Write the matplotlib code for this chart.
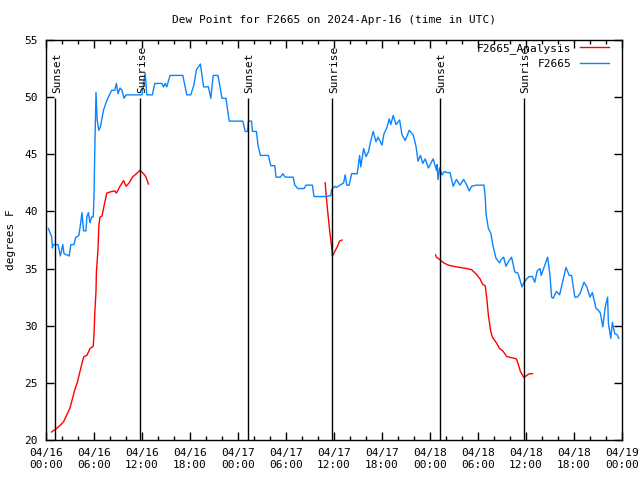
import numpy as np
import pandas as pd
import matplotlib
matplotlib.use("Agg")
import matplotlib.pyplot as plt
import matplotlib.dates as mdates
import matplotlib.transforms as mtransforms

plt.rcParams['font.family'] = ['DejaVu Sans Mono']
plt.rcParams['font.size'] = 8

start = pd.Timestamp("2024-04-16 00:00")

# observed dew point (hours after start, deg F)
obs_hours = [0.3, 0.7, 0.8, 0.9, 1.5, 1.8, 2.1, 2.25, 2.9, 3.1, 3.5, 3.7, 4.1, 4.3, 4.5, 4.7,
             5.0, 5.1, 5.3, 5.5, 5.7, 5.9, 6.0, 6.1, 6.25, 6.4, 6.6, 6.8, 7.2, 7.6, 8.0, 8.2,
             8.6, 8.8, 9.0, 9.25, 9.5, 9.75, 10.0, 10.3, 12.0, 12.4, 12.6, 13.3, 13.6, 14.5,
             14.7, 14.9, 15.1, 15.5, 17.1, 17.6, 18.1, 18.5, 18.8, 19.3, 19.7, 20.3, 20.6,
             20.9, 21.5, 22.0, 22.5, 22.9, 24.25, 24.6, 24.9, 25.2, 25.3, 25.7, 25.8, 26.3,
             26.5, 26.8, 27.8, 28.1, 28.6, 28.75, 29.3, 29.6, 29.9, 30.9, 31.1, 31.5, 32.25,
             32.5, 33.3, 33.5, 35.0, 35.6, 35.7, 36.1, 36.3, 36.75, 37.2, 37.4, 37.6, 37.9,
             38.2, 38.9, 39.2, 39.35, 39.7, 40.0, 40.3, 40.6, 40.9, 41.25, 41.5, 42.0, 42.25,
             42.6, 42.9, 43.1, 43.4, 43.75, 44.2, 44.5, 44.9, 45.4, 45.9, 46.25, 46.5, 46.8,
             47.1, 47.4, 47.8, 48.4, 48.8, 48.9, 49.0, 49.2, 49.5, 49.8, 50.1, 50.5, 50.9,
             51.3, 51.75, 52.2, 52.6, 52.9, 53.2, 53.8, 54.75, 54.9, 55.0, 55.3, 55.6, 55.9,
             56.25, 56.7, 56.9, 57.2, 57.5, 57.8, 58.2, 58.6, 59.0, 59.5, 59.75, 60.1, 60.4,
             60.8, 61.1, 61.4, 61.75, 61.9, 62.25, 62.7, 63.0, 63.2, 63.4, 63.8, 64.2, 64.6,
             65.0, 65.4, 65.7, 66.1, 66.4, 66.75, 67.25, 67.6, 68.0, 68.3, 68.75, 69.0, 69.3,
             69.6, 69.9, 70.2, 70.3, 70.6, 70.8, 71.1, 71.4, 71.6]
obs_vals = [38.5, 37.8, 36.8, 37.1, 37.1, 36.1, 37.1, 36.3, 36.1, 37.1, 37.1, 37.7, 37.9, 38.8, 39.9, 38.3,
            38.3, 39.5, 39.9, 39.0, 39.5, 39.5, 41.3, 45.4, 50.4, 48.0, 47.1, 47.4, 48.9, 49.7, 50.3, 50.6,
            50.6, 51.2, 50.3, 50.8, 50.6, 49.9, 50.2, 50.2, 50.2, 52.1, 50.2, 50.2, 51.2, 51.2,
            50.9, 51.2, 50.9, 51.9, 51.9, 50.2, 50.2, 51.1, 52.4, 52.9, 50.9, 50.9, 49.9,
            51.9, 51.9, 49.9, 49.9, 47.9, 47.9, 47.9, 47.0, 47.0, 47.9, 47.9, 47.0, 47.0,
            45.8, 44.9, 44.9, 44.0, 44.0, 43.0, 43.0, 43.3, 43.0, 43.0, 42.3, 42.0, 42.0,
            42.3, 42.3, 41.3, 41.3, 41.4, 41.9, 42.2, 42.1, 42.3, 42.5, 43.2, 42.3, 42.3,
            43.3, 43.3, 44.9, 43.9, 45.5, 44.8, 45.2, 46.2, 47.0, 46.1, 46.5, 45.8, 46.8,
            47.3, 48.1, 47.6, 48.4, 47.6, 48.0, 46.7, 46.2, 47.1, 46.7, 45.7, 44.4, 44.9,
            44.2, 44.6, 43.8, 44.6, 43.6, 44.1, 42.8, 43.8, 43.2, 43.5, 43.4, 43.4, 42.2,
            42.8, 42.3, 42.8, 42.3, 41.8, 42.2, 42.3, 42.3, 41.3, 39.8, 38.5, 38.1, 36.9,
            35.9, 35.5, 35.8, 36.0, 35.2, 35.6, 36.0, 34.7, 34.6, 33.4, 33.8, 34.1, 34.3,
            34.3, 33.8, 34.8, 35.0, 34.4, 35.1, 36.0, 34.4, 32.5, 32.4, 33.0, 32.7, 33.9,
            35.1, 34.4, 34.4, 32.5, 32.5, 32.8, 33.8, 33.4, 32.5, 32.9, 31.5, 31.4, 31.1,
            29.9, 31.6, 32.5, 30.2, 28.9, 30.3, 29.3, 29.2, 28.9]

# analysis dew point, three runs
ana1_hours = [0.7, 1.3, 1.8, 2.2, 2.6, 3.0, 3.3, 3.6, 3.9, 4.25, 4.6, 4.75, 5.1, 5.5, 5.9, 6.0,
              6.1, 6.25, 6.3, 6.5, 6.6, 6.75, 7.0, 7.2, 7.6, 8.0, 8.6, 8.8, 9.25, 9.7, 10.0,
              10.4, 10.8, 11.3, 11.75, 12.2, 12.5, 12.8]
ana1_vals = [20.7, 21.0, 21.3, 21.6, 22.2, 22.8, 23.6, 24.4, 25.0, 26.0, 27.0, 27.3, 27.4, 28.0, 28.2, 29.2,
             31.1, 33.0, 34.7, 36.7, 38.7, 39.5, 39.6, 40.3, 41.6, 41.7, 41.8, 41.6, 42.2, 42.7, 42.2,
             42.5, 43.0, 43.3, 43.6, 43.3, 43.0, 42.4]
ana2_hours = [34.9, 35.0, 35.2, 35.4, 35.6, 35.75, 35.8, 36.1, 36.4, 36.7, 37.0]
ana2_vals = [42.5, 41.6, 40.1, 38.7, 37.5, 36.6, 36.1, 36.5, 36.9, 37.4, 37.5]
ana3_hours = [48.7, 48.8, 49.2, 49.7, 50.3, 50.9, 51.75, 52.6, 53.2, 53.8, 54.25, 54.6, 54.9, 55.1,
              55.3, 55.6, 55.8, 56.3, 56.7, 57.1, 57.6, 58.2, 58.8, 59.0, 59.3, 59.7, 60.0, 60.4, 60.8]
ana3_vals = [36.2, 36.0, 35.8, 35.5, 35.3, 35.2, 35.1, 35.0, 34.9, 34.5, 34.1, 33.6, 33.5, 32.4,
             30.9, 29.5, 29.0, 28.5, 28.0, 27.8, 27.3, 27.2, 27.1, 26.7, 26.0, 25.5, 25.6, 25.8, 25.8]

sun_hours = [1.16, 11.8, 25.2, 35.8, 49.2, 59.7]
sun_labels = ["Sunset", "Sunrise", "Sunset", "Sunrise", "Sunset", "Sunrise"]


def to_time(hours):
    return start + pd.to_timedelta(np.array(hours), unit="h")


fig = plt.figure(figsize=(6.4, 4.8), dpi=100)
ax = fig.add_axes([46 / 640, 40 / 480, 576 / 640, 400 / 480])

red = "#ff0000"
blue = "#0a84ff"
ax.plot(to_time(ana1_hours), ana1_vals, color=red, lw=1.0, label="F2665_Analysis")
ax.plot(to_time(ana2_hours), ana2_vals, color=red, lw=1.0)
ax.plot(to_time(ana3_hours), ana3_vals, color=red, lw=1.0)
ax.plot(to_time(obs_hours), obs_vals, color=blue, lw=1.0, label="F2665")

text_tr = mtransforms.offset_copy(ax.transData, fig=fig, x=1.5, y=0, units="dots")
for h, lab in zip(sun_hours, sun_labels):
    t = to_time([h])[0]
    ax.vlines(t, 20, 49.9, color="black", lw=1.0)
    ax.text(t, 50.4, lab, rotation=90, ha="center", va="bottom", fontsize=8,
            transform=text_tr)

ax.set_xlim(start, start + pd.Timedelta(hours=72))
ax.set_ylim(20, 55)
ax.set_yticks(np.arange(20, 56, 5))
ax.xaxis.set_major_locator(mdates.HourLocator(byhour=[0, 6, 12, 18]))
ax.xaxis.set_minor_locator(mdates.HourLocator(byhour=range(0, 24, 2)))
ax.xaxis.set_major_formatter(mdates.DateFormatter("%m/%d\n%H:%M"))
ax.tick_params(which="both", direction="in", top=True, right=True, width=1.0)
ax.tick_params(which="major", length=6, pad=6)
ax.tick_params(which="minor", length=3)
for s in ax.spines.values():
    s.set_linewidth(1.0)

ax.set_title("Dew Point for F2665 on 2024-Apr-16 (time in UTC)", fontsize=8, pad=12)
ax.set_ylabel("degrees F", labelpad=6)

ax.legend(loc="upper right", bbox_to_anchor=(563 / 576, 0.9925), frameon=False,
          markerfirst=False, handlelength=2.6, borderaxespad=0, borderpad=0,
          labelspacing=0.45, fontsize=8)

fig.savefig("out.png", dpi=100)
